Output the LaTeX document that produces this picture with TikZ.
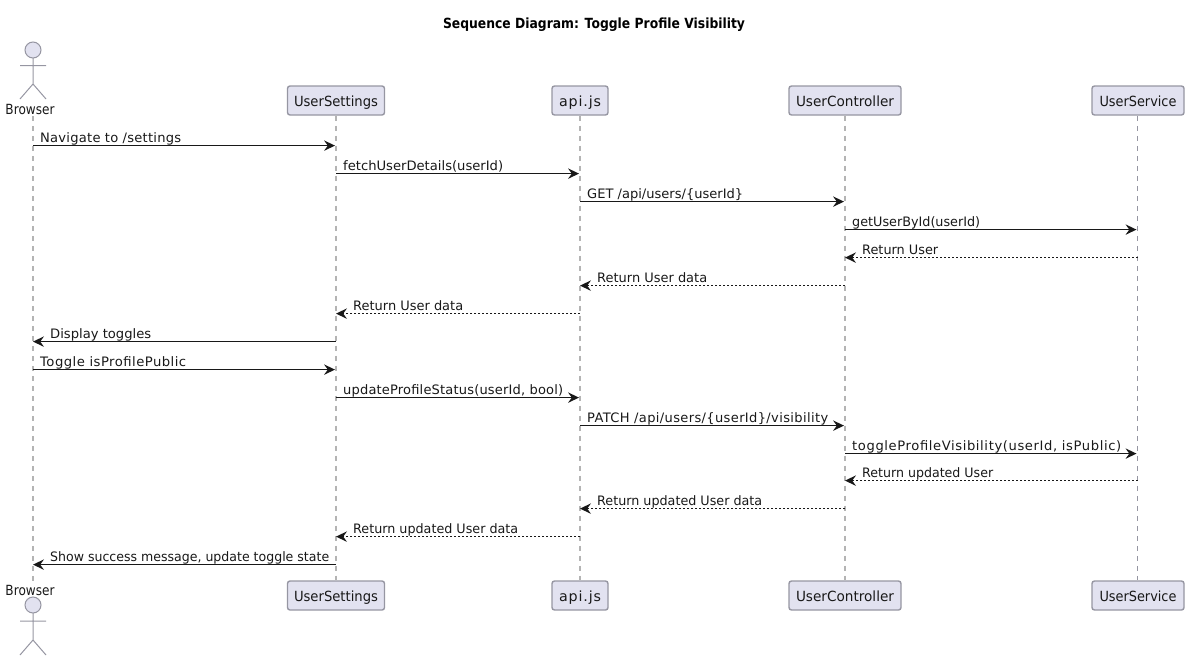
\documentclass[tikz,border=0pt]{standalone}
\usepackage{fontspec}
\usepackage{graphicx}
\setmainfont{DejaVu Sans}
\usetikzlibrary{arrows.meta}
\definecolor{partfill}{HTML}{E2E2F0}
\definecolor{partline}{HTML}{9696A2}
\definecolor{lifeln}{HTML}{B4B4B4}
\definecolor{ink}{HTML}{181818}
\tikzset{
  x=1pt,y=-1pt,
  part/.style={draw=partline,fill=partfill,rounded corners=2.5pt,line width=1.4pt,minimum height=29pt,inner sep=0pt,text height=14pt,text depth=3pt,font=\fontsize{14}{16}\selectfont,text=ink,anchor=center},
  lifel/.style={draw=lifeln,line width=1.5pt,dash pattern=on 5pt off 5pt},
  sync/.style={draw=ink,line width=1pt,-{Stealth[length=11pt,width=10.5pt,inset=3.8pt,line width=0pt,fill=ink]}},
  ret/.style={draw=ink,line width=1pt,dash pattern=on 2pt off 2pt,-{Stealth[length=11pt,width=10.5pt,inset=3.8pt,line width=0pt,fill=ink]}},
  msgl/.style={anchor=base west,inner sep=0pt,font=\fontsize{13}{15}\selectfont,text=ink},
  actorl/.style={inner sep=0pt,font=\fontsize{14}{16}\selectfont,text=ink,anchor=base},
  stick/.style={draw=partline,line width=1pt},
}
\newcommand{\fitw}[2]{\resizebox{#1pt}{\height}{#2}}
\newcommand{\lsp}[2]{{\addfontfeature{LetterSpace=#1}#2}}
\newcommand{\msgR}[6][sync]{\draw[#1] (#2 |- 0,#4-0.4) -- ([xshift=-1pt]#3 |- 0,#4-0.4);
  \node[msgl] (m#4) at ([xshift=7pt]#2 |- 0,#4-4) {\fitw{#5}{#6}};}
\newcommand{\msgL}[6][sync]{\draw[#1] (#2 |- 0,#4-0.4) -- (#3 |- 0,#4-0.4);
  \node[msgl] (m#4) at ([xshift=17pt]#3 |- 0,#4-4) {\fitw{#5}{#6}};}
\begin{document}
\begin{tikzpicture}
\useasboundingbox (0,0) rectangle (1189,662);
\node[anchor=base,inner sep=0pt,font=\bfseries\fontsize{14}{16}\selectfont,text=black] (title) at (594,28) {\fitw{302}{Sequence Diagram: Toggle Profile Visibility}};
% participants
\node[part,minimum width=97pt] (usT) at (336,100.5) {\fitw{84}{UserSettings}};
\node[part,minimum width=56pt] (apT) at (580,100.5) {\fitw{42}{\lsp{6}{api.js}}};
\node[part,minimum width=112pt] (ucT) at (845,100.5) {\fitw{98}{UserController}};
\node[part,minimum width=92pt] (svT) at (1138,100.5) {\fitw{77}{UserService}};
\node[part,minimum width=97pt] (usB) at (336,595.5) {\fitw{84}{UserSettings}};
\node[part,minimum width=56pt] (apB) at (580,595.5) {\fitw{42}{\lsp{6}{api.js}}};
\node[part,minimum width=112pt] (ucB) at (845,595.5) {\fitw{98}{UserController}};
\node[part,minimum width=92pt] (svB) at (1138,595.5) {\fitw{77}{UserService}};
% actors
\node[actorl] (brT) at (30,114) {\fitw{49}{Browser}};
\node[actorl] (brB) at (30,595) {\fitw{49}{Browser}};
\coordinate (brTop) at (33,116);
\coordinate (brBot) at (33,581);
\coordinate (usL) at (336,116);
\coordinate (apL) at (580,116);
\coordinate (ucL) at (845,116);
\coordinate (svL) at (1137.5,116);
% lifelines
\draw[lifel] (brTop) -- (brBot);
\draw[lifel] (usT.south) -- (usB.north);
\draw[lifel] (apT.south) -- (apB.north);
\draw[lifel] (ucT.south) -- (ucB.north);
\draw[lifel,line width=1pt,draw=partline] (svL) -- (svL |- svB.north);
% top actor
\draw[stick,fill=partfill] (33,50) circle[radius=8];
\draw[stick] (33,58) -- (33,84) (20,65.5) -- (46,65.5) (20,99) -- (33,84) -- (46,99);
% bottom actor
\draw[stick,fill=partfill] (33,605) circle[radius=8];
\draw[stick] (33,613) -- (33,640) (20,621) -- (46,621) (20,655) -- (33,640) -- (46,655);
% messages
\msgR{brTop}{usL}{146}{141}{\lsp{1.8}{Navigate to /settings}}
\msgR{usL}{apL}{174}{160}{fetchUserDetails(userId)}
\msgR{apL}{ucL}{202}{156}{GET /api/users/\{userId\}}
\msgR{ucL}{svL}{230}{128}{getUserById(userId)}
\msgL[ret]{svL}{ucL}{258}{76}{Return User}
\msgL[ret]{ucL}{apL}{286}{110}{Return User data}
\msgL[ret]{apL}{usL}{314}{110}{Return User data}
\msgL{usL}{brTop}{342}{101}{Display toggles}
\msgR{brTop}{usL}{370}{146}{\lsp{3.5}{Toggle isProfilePublic}}
\msgR{usL}{apL}{398}{220}{\lsp{1.4}{updateProfileStatus(userId, bool)}}
\msgR{apL}{ucL}{426}{241}{\lsp{2.8}{PATCH /api/users/\{userId\}/visibility}}
\msgR{ucL}{svL}{454}{269}{\lsp{4.7}{toggleProfileVisibility(userId, isPublic)}}
\msgL[ret]{svL}{ucL}{481}{131}{Return updated User}
\msgL[ret]{ucL}{apL}{509}{165}{Return updated User data}
\msgL[ret]{apL}{usL}{537}{165}{Return updated User data}
\msgL{usL}{brTop}{565}{279}{Show success message, update toggle state}
\end{tikzpicture}
\end{document}
